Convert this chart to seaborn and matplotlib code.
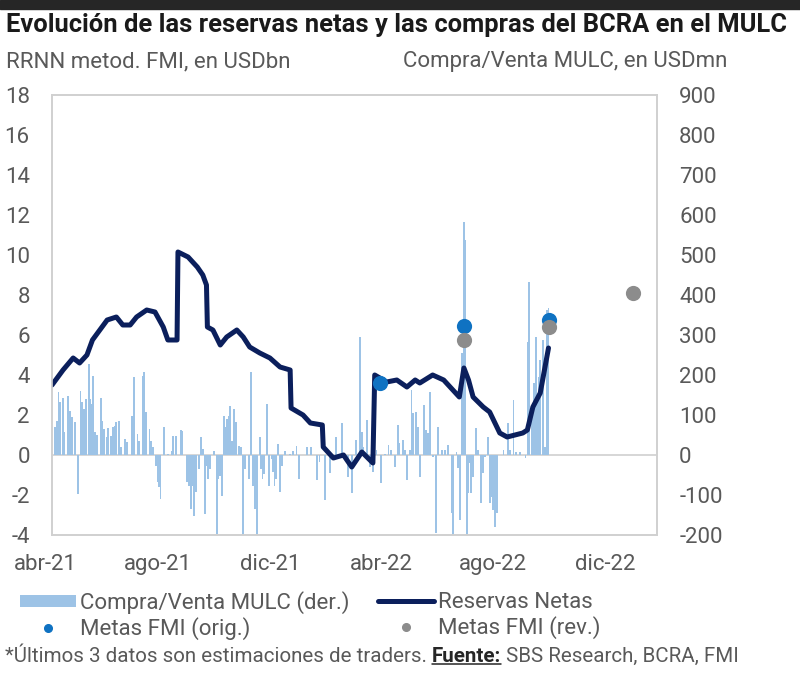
import matplotlib

matplotlib.use("Agg")
import matplotlib.pyplot as plt
import pandas as pd
import seaborn as sns
from matplotlib.lines import Line2D
from matplotlib.patches import Patch, Rectangle

sns.set_theme(style="white")
plt.rcParams["font.family"] = ["Roboto", "DejaVu Sans"]
plt.rcParams["axes.unicode_minus"] = False

# Reservas netas (USDbn, eje izq.)
reservas_fechas = [
    "2021-04-08", "2021-04-20", "2021-05-01", "2021-05-08", "2021-05-16", "2021-05-22",
    "2021-06-07", "2021-06-17", "2021-06-24", "2021-07-02", "2021-07-09", "2021-07-20",
    "2021-07-29", "2021-08-07", "2021-08-12", "2021-08-22", "2021-08-23", "2021-09-03",
    "2021-09-13", "2021-09-19", "2021-09-23", "2021-09-24", "2021-09-30", "2021-10-08",
    "2021-10-15", "2021-10-26", "2021-11-02", "2021-11-09", "2021-11-20", "2021-12-01",
    "2021-12-12", "2021-12-23", "2021-12-24", "2022-01-06", "2022-01-14", "2022-01-27",
    "2022-01-28", "2022-02-08", "2022-02-19", "2022-02-28", "2022-03-11", "2022-03-23",
    "2022-03-25", "2022-04-07", "2022-04-18", "2022-04-29", "2022-05-08", "2022-05-13",
    "2022-05-27", "2022-06-08", "2022-06-18", "2022-06-25", "2022-06-30", "2022-07-05",
    "2022-07-10", "2022-07-21", "2022-07-28", "2022-08-08", "2022-08-16", "2022-09-02",
    "2022-09-07", "2022-09-13", "2022-09-21", "2022-09-30",
]
reservas_valores = [
    3.5, 4.25, 4.85, 4.6, 5.0, 5.75,
    6.75, 6.9, 6.5, 6.5, 6.9, 7.25,
    7.15, 6.4, 5.75, 5.75, 10.15, 9.9,
    9.4, 9.0, 8.5, 6.4, 6.25, 5.5,
    5.9, 6.25, 5.9, 5.4, 5.1, 4.85,
    4.4, 4.25, 2.35, 2.0, 1.6, 1.5,
    0.4, -0.15, 0.0, -0.6, 0.15, -0.4,
    4.0, 3.65, 3.75, 3.4, 3.75, 3.6,
    4.0, 3.75, 3.25, 2.9, 4.35, 3.75,
    2.9, 2.4, 2.15, 1.1, 0.9, 1.1,
    1.25, 2.4, 3.1, 5.35,
]

# Compra/Venta MULC (USDmn, eje der.)
mulc_fechas = [
    "2021-04-11", "2021-04-13", "2021-04-15", "2021-04-17", "2021-04-20", "2021-04-21",
    "2021-04-25", "2021-04-27", "2021-04-28", "2021-04-30", "2021-05-03", "2021-05-06",
    "2021-05-09", "2021-05-11", "2021-05-13", "2021-05-15", "2021-05-18", "2021-05-19",
    "2021-05-21", "2021-05-23", "2021-05-25", "2021-05-27", "2021-05-31", "2021-06-02",
    "2021-06-04", "2021-06-07", "2021-06-08", "2021-06-11", "2021-06-13", "2021-06-15",
    "2021-06-17", "2021-06-20", "2021-06-22", "2021-06-26", "2021-06-29", "2021-07-04",
    "2021-07-06", "2021-07-10", "2021-07-12", "2021-07-16", "2021-07-17", "2021-07-19",
    "2021-07-23", "2021-07-25", "2021-07-27", "2021-07-30", "2021-08-01", "2021-08-02",
    "2021-08-04", "2021-08-08", "2021-08-12", "2021-08-16", "2021-08-18", "2021-08-21",
    "2021-08-26", "2021-08-28", "2021-09-02", "2021-09-04", "2021-09-06", "2021-09-08",
    "2021-09-09", "2021-09-12", "2021-09-15", "2021-09-17", "2021-09-19", "2021-09-21",
    "2021-09-23", "2021-09-25", "2021-09-27", "2021-10-01", "2021-10-04", "2021-10-06",
    "2021-10-08", "2021-10-10", "2021-10-12", "2021-10-13", "2021-10-15", "2021-10-17",
    "2021-10-19", "2021-10-21", "2021-10-23", "2021-10-25", "2021-10-28", "2021-10-31",
    "2021-11-02", "2021-11-04", "2021-11-08", "2021-11-10", "2021-11-13", "2021-11-15",
    "2021-11-17", "2021-11-20", "2021-11-21", "2021-11-23", "2021-11-25", "2021-11-28",
    "2021-11-30", "2021-12-03", "2021-12-04", "2021-12-06", "2021-12-08", "2021-12-10",
    "2021-12-12", "2021-12-14", "2021-12-17", "2021-12-23", "2021-12-26", "2021-12-30",
    "2022-01-02", "2022-01-10", "2022-01-15", "2022-01-21", "2022-01-24", "2022-01-30",
    "2022-02-04", "2022-02-11", "2022-02-17", "2022-02-20", "2022-02-24", "2022-02-28",
    "2022-03-05", "2022-03-09", "2022-03-11", "2022-03-12", "2022-03-17", "2022-03-20",
    "2022-03-23", "2022-03-27", "2022-04-01", "2022-04-05", "2022-04-09", "2022-04-12",
    "2022-04-16", "2022-04-19", "2022-04-21", "2022-04-25", "2022-04-27", "2022-04-29",
    "2022-05-02", "2022-05-04", "2022-05-06", "2022-05-09", "2022-05-11", "2022-05-13",
    "2022-05-18", "2022-05-20", "2022-05-22", "2022-05-24", "2022-05-27", "2022-05-31",
    "2022-06-02", "2022-06-06", "2022-06-09", "2022-06-13", "2022-06-17", "2022-06-18",
    "2022-06-22", "2022-06-24", "2022-06-26", "2022-06-28", "2022-06-30", "2022-07-01",
    "2022-07-03", "2022-07-05", "2022-07-06", "2022-07-08", "2022-07-10", "2022-07-13",
    "2022-07-15", "2022-07-19", "2022-07-21", "2022-07-23", "2022-07-26", "2022-07-28",
    "2022-07-30", "2022-08-01", "2022-08-03", "2022-08-05", "2022-08-12", "2022-08-17",
    "2022-08-19", "2022-08-23", "2022-08-26", "2022-08-30", "2022-09-05", "2022-09-08",
    "2022-09-09", "2022-09-12", "2022-09-14", "2022-09-16", "2022-09-18", "2022-09-20",
    "2022-09-21", "2022-09-24", "2022-09-26", "2022-09-28", "2022-09-30",
]
mulc_valores = [
    69, 86, 157, 132, 142, 57,
    147, 82, 111, 94, 82, -97,
    161, 132, 115, 140, 227, 140,
    127, 198, 57, 50, 142, 86,
    65, 44, 67, 48, 69, 73,
    82, 86, 19, 40, 32, 98,
    194, 52, 36, 198, 207, 107,
    65, 36, 19, -27, -68, -81,
    -110, 69, 2, 11, 48, 48,
    63, 61, -68, -77, -135, -77,
    -152, -93, -35, 44, 15, -147,
    -27, -60, -35, 11, -197, -60,
    -52, -102, 98, 69, 90, 98,
    123, 36, 115, 82, 23, 19,
    -202, -35, -60, 207, -77, -135,
    -202, 44, -35, -60, -48, 127,
    -77, -10, -43, -77, -60, 27,
    -93, -27, 11, 2, 11, 23,
    -60, 19, 21, -62, -17, -112,
    -46, 46, 79, 4, -54, -96,
    37, 296, 58, 21, 87, -29,
    -42, 12, -71, 3, 25, 12,
    -29, 75, 29, 37, 12, -62,
    12, 162, 104, 108, 71, -54,
    125, 62, 54, 158, -4, -196,
    71, 12, 12, 25, -146, -200,
    8, -33, -162, 254, 583, 537,
    -200, -96, -21, -96, -54, 67,
    12, -121, -46, -4, 46, -121,
    -104, -137, -179, -146, 12, 79,
    12, 137, 8, 8, -8, 283,
    433, 104, 179, 296, 146, 196,
    237, 287, 21, 362, 367,
]

# Metas FMI (USDbn)
metas_orig_fechas = ["2022-03-31", "2022-06-30", "2022-09-30"]
metas_orig_valores = [3.6, 6.45, 6.75]
metas_rev_fechas = ["2022-06-30", "2022-09-30", "2022-12-31"]
metas_rev_valores = [5.75, 6.4, 8.1]

meses_fechas = ["2021-04-01", "2021-08-01", "2021-12-01", "2022-04-01", "2022-08-01", "2022-12-01"]
meses_labels = ["abr-21", "ago-21", "dic-21", "abr-22", "ago-22", "dic-22"]

color_barra = "#9dc3e6"
color_linea = "#0b1f5c"
color_orig = "#0f72c2"
color_rev = "#8c8c8c"
gris_texto = "#595959"
gris_borde = "#d0d0d0"
fs = 16

reservas = pd.DataFrame({"fecha": pd.to_datetime(reservas_fechas), "valor": reservas_valores})
mulc = pd.DataFrame({"fecha": pd.to_datetime(mulc_fechas), "valor": mulc_valores})
orig = pd.DataFrame({"fecha": pd.to_datetime(metas_orig_fechas), "valor": metas_orig_valores})
rev = pd.DataFrame({"fecha": pd.to_datetime(metas_rev_fechas), "valor": metas_rev_valores})

fig = plt.figure(figsize=(8, 6.76), dpi=100)
ax = fig.add_axes([52 / 800, 1 - 535 / 676, 605 / 800, 440 / 676])
ax2 = ax.twinx()

# bars behind the line: line axis on top
ax2.bar(mulc["fecha"], mulc["valor"], width=2.0, color=color_barra, linewidth=0)
ax2.axhline(0, color=gris_borde, lw=1.2, zorder=0)
ax.set_zorder(ax2.get_zorder() + 1)
ax.patch.set_visible(False)

sns.lineplot(data=reservas, x="fecha", y="valor", ax=ax, color=color_linea, lw=3.6)
sns.scatterplot(data=rev, x="fecha", y="valor", ax=ax, color=color_rev, s=120, linewidth=0, zorder=4)
sns.scatterplot(data=orig, x="fecha", y="valor", ax=ax, color=color_orig, s=120, linewidth=0, zorder=3)

ax.set_xlim(pd.Timestamp("2021-04-08"), pd.Timestamp("2023-01-26"))
ax.set_ylim(-4, 18)
ax2.set_ylim(-200, 900)
ax.set_yticks(range(-4, 19, 2))
ax2.set_yticks(range(-200, 901, 100))
ax.set_xticks([])
ax.set_xlabel("")
ax.set_ylabel("")
ax.tick_params(axis="y", length=0, pad=16, labelsize=fs, labelcolor=gris_texto)
ax2.tick_params(axis="y", length=0, pad=16, labelsize=fs, labelcolor=gris_texto)
for lab in ax2.get_yticklabels():
    lab.set_horizontalalignment("left")

for a in (ax, ax2):
    for s in a.spines.values():
        s.set_color(gris_borde)
        s.set_linewidth(1.2)

for f, lab in zip(meses_fechas, meses_labels):
    ax.text(pd.Timestamp(f), -0.068, lab, transform=ax.get_xaxis_transform(),
            ha="center", va="center", fontsize=fs, color=gris_texto, clip_on=False)

# top strip of the cropped screenshot
fig.patches.append(Rectangle((0, 1 - 9 / 676), 1, 9 / 676, transform=fig.transFigure,
                             color="#262626", zorder=0))

fig.text(6 / 800, 1 - 25 / 676, "Evolución de las reservas netas y las compras del BCRA en el MULC",
         fontsize=18.4, fontweight="bold", color="#1a1a1a", va="center", ha="left")
fig.text(6 / 800, 1 - 62 / 676, "RRNN metod. FMI, en USDbn", fontsize=fs,
         color=gris_texto, va="center", ha="left")
fig.text(727 / 800, 1 - 62 / 676, "Compra/Venta MULC, en USDmn", fontsize=fs,
         color=gris_texto, va="center", ha="right")

h_barra = Patch(facecolor=color_barra, edgecolor="none")
h_linea = Line2D([], [], color=color_linea, lw=3.6)
h_orig = Line2D([], [], marker="o", ls="", color=color_orig, markersize=5.5)
h_rev = Line2D([], [], marker="o", ls="", color=color_rev, markersize=5.5)
leg_kw = dict(loc="center left", frameon=False, borderpad=0, borderaxespad=0,
              handlelength=2.5, handleheight=0.45, handletextpad=0.2, labelspacing=0.15,
              fontsize=fs, labelcolor=gris_texto)
fig.legend([h_barra, h_orig], ["Compra/Venta MULC (der.)", "Metas FMI (orig.)"],
           bbox_to_anchor=(20 / 800, 1 - 615.5 / 676), **leg_kw)
fig.legend([h_linea, h_rev], ["Reservas Netas", "Metas FMI (rev.)"],
           bbox_to_anchor=(378 / 800, 1 - 615.5 / 676), **leg_kw)

# footnote with bold underlined "Fuente:"
y_nota = 1 - 656 / 676
fs_nota = 14.8
fig.canvas.draw()
r = fig.canvas.get_renderer()
t1 = fig.text(5 / 800, y_nota, "*Últimos 3 datos son estimaciones de traders. ",
              fontsize=fs_nota, color=gris_texto, va="center", ha="left")
bb1 = t1.get_window_extent(r)
t2 = fig.text(bb1.x1 / 800, y_nota, "Fuente:", fontsize=fs_nota, fontweight="bold",
              color="#262626", va="center", ha="left")
bb2 = t2.get_window_extent(r)
fig.text(bb2.x1 / 800, y_nota, " SBS Research, BCRA, FMI", fontsize=fs_nota,
         color=gris_texto, va="center", ha="left")
fig.add_artist(Line2D([bb2.x0 / 800, bb2.x1 / 800], [(bb2.y0 + 2) / 676] * 2,
                      color="#262626", lw=1.1, transform=fig.transFigure))

fig.savefig("out.png", dpi=100)
